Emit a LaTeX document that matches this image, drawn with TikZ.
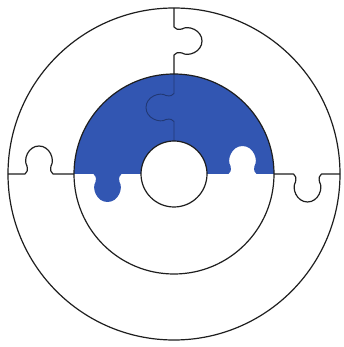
\documentclass[tikz,border=0pt]{standalone}
\usetikzlibrary{calc}
\definecolor{pzblue}{RGB}{50,86,178}
\definecolor{pzline}{RGB}{30,30,30}
\newcommand{\pzknob}[2]{-- ({#1-14},0) .. controls ({#1-12},{#2*1}) and ({#1-11},{#2*4}) .. ({#1-12},{#2*8}) .. controls ({#1-16},{#2*14}) and ({#1-11},{#2*28}) .. ({#1},{#2*28}) .. controls ({#1+11},{#2*28}) and ({#1+16},{#2*14}) .. ({#1+12},{#2*8}) .. controls ({#1+11},{#2*4}) and ({#1+12},{#2*1}) .. ({#1+14},0)}
\begin{document}
\begin{tikzpicture}[x=1pt,y=1pt,
  pzstroke/.style={draw=pzline,line width=1.2pt,line join=round},
  pzfaint/.style={draw=pzblue!65!black,line width=0.9pt,line join=round}]
\useasboundingbox (-174,-173) rectangle (170,174);
\fill[white] (-174,-173) rectangle (170,174);
% blue piece
\fill[pzblue] (-100,0) \pzknob{-66.5}{-1} -- (-33,0) arc[start angle=180,end angle=0,radius=33] -- (33,0) \pzknob{68.5}{1} -- (100,0) arc[start angle=0,end angle=180,radius=100] -- cycle;
% faint seam inside blue
\begin{scope}[shift={(0,66.5)},rotate=-90]
\draw[pzfaint] (-33.5,0) \pzknob{0}{-1} -- (33.5,0);
\end{scope}
% circles
\draw[pzstroke] (0,0) circle[radius=166];
\draw[pzstroke] (0,0) circle[radius=100];
\draw[pzstroke] (0,0) circle[radius=33];
% horizontal seams
\draw[pzstroke] (-166,0) \pzknob{-135}{1} -- (-100,0);
\draw[pzstroke] (100,0) \pzknob{133.5}{-1} -- (166,0);
% top vertical seam
\begin{scope}[shift={(0,133)},rotate=-90]
\draw[pzstroke] (-33,0) \pzknob{0}{1} -- (33,0);
\end{scope}
\end{tikzpicture}
\end{document}
